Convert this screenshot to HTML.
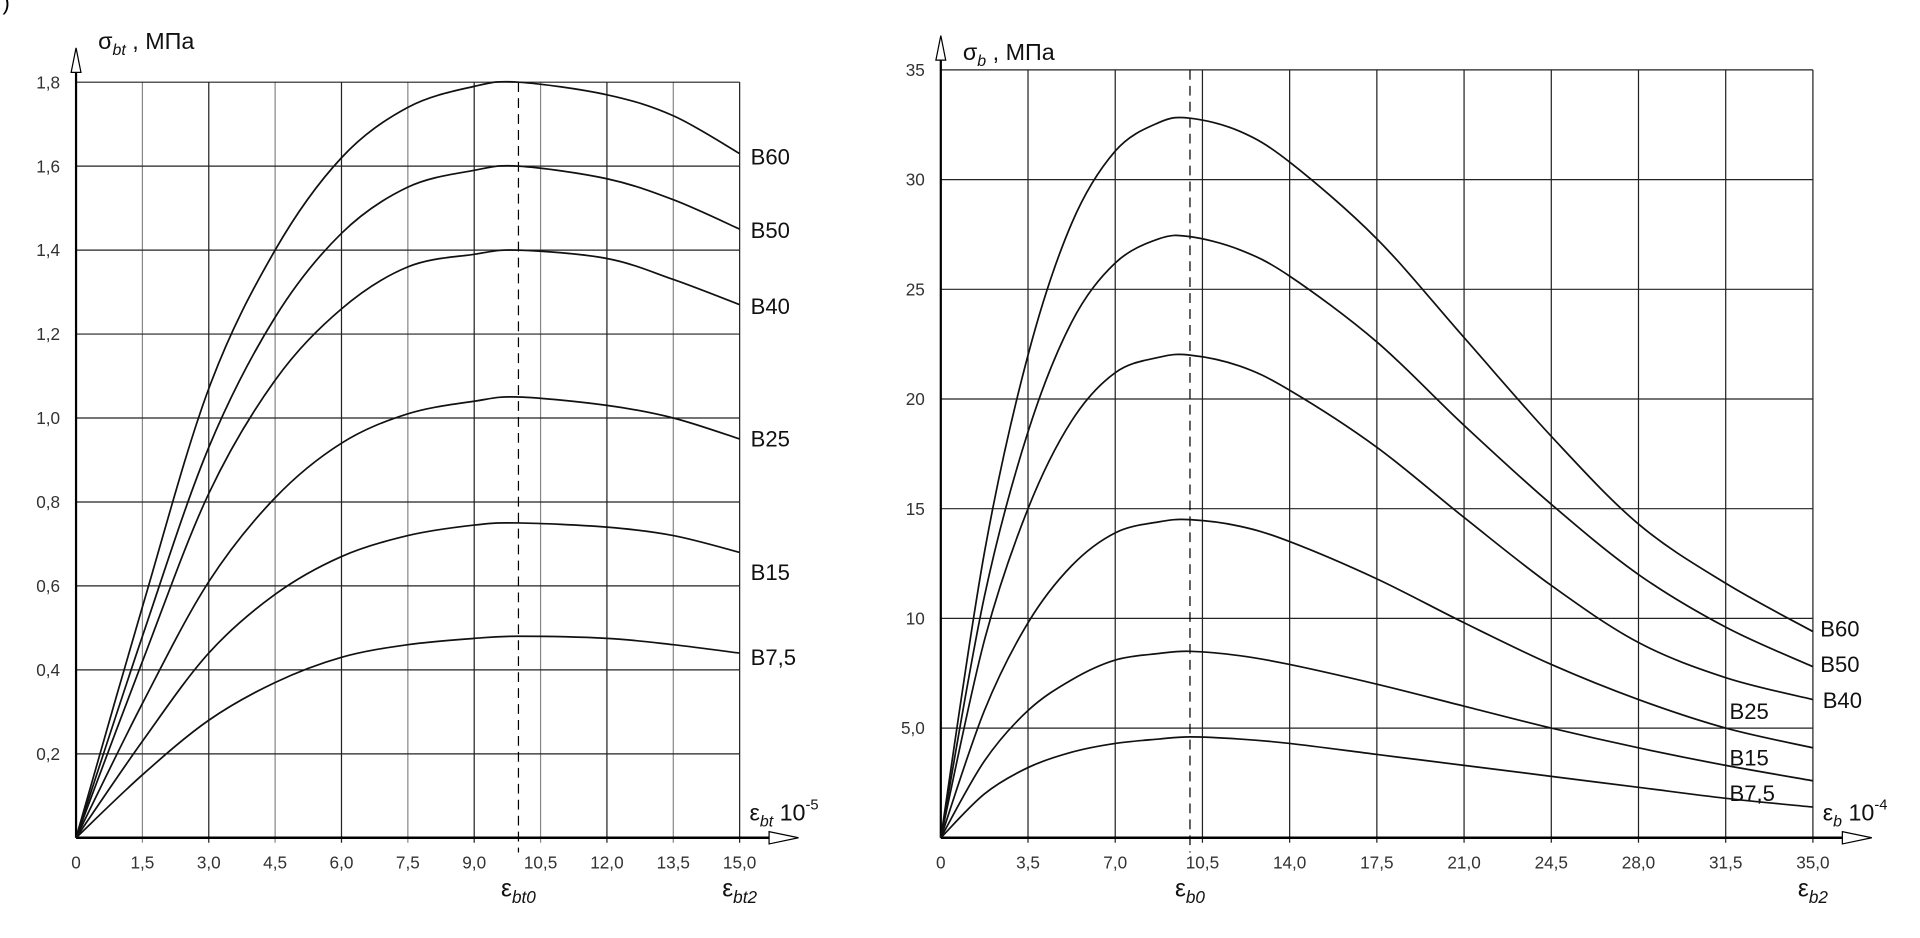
<!DOCTYPE html>
<html><head><meta charset="utf-8"><style>
html,body{margin:0;padding:0;background:#fff;}
svg{display:block;font-family:"Liberation Sans",sans-serif;}
</style></head><body>
<svg id="chart" width="1920" height="938" viewBox="0 0 1565.3 764.7" preserveAspectRatio="none" xmlns="http://www.w3.org/2000/svg">
<text x="2" y="8" font-size="18">)</text>
<g id="L"></g>
<g id="R"></g>
</svg>
<script>
const leftX=[0,1.5,3,4.5,6,7.5,9,10,12,13.5,15];
const leftNames=["B60","B50","B40","B25","B15","B7,5"];
const leftB60=[0,0.55,1.07,1.40,1.62,1.74,1.79,1.80,1.77,1.72,1.63];
const leftB50=[0,0.48,0.93,1.24,1.44,1.55,1.59,1.60,1.57,1.52,1.45];
const leftB40=[0,0.42,0.82,1.09,1.26,1.36,1.39,1.40,1.38,1.33,1.27];
const leftB25=[0,0.32,0.61,0.81,0.94,1.01,1.04,1.05,1.03,1.00,0.95];
const leftB15=[0,0.23,0.44,0.58,0.67,0.72,0.745,0.75,0.74,0.72,0.68];
const leftB75=[0,0.15,0.28,0.37,0.43,0.46,0.475,0.48,0.475,0.46,0.44];
const leftXTicks=["0","1,5","3,0","4,5","6,0","7,5","9,0","10,5","12,0","13,5","15,0"];
const leftYTicks=["0,2","0,4","0,6","0,8","1,0","1,2","1,4","1,6","1,8"];
const rightX=[0,1.75,3.5,5.25,7,8.75,10,12,14,17.5,21,24.5,28,31.5,35];
const rightNames=["B60","B50","B40","B25","B15","B7,5"];
const rightB60=[0,13,22,28,31.3,32.6,32.8,32.2,30.8,27.3,22.8,18.3,14.3,11.6,9.4];
const rightB50=[0,11,18.5,23.5,26.2,27.3,27.4,26.8,25.6,22.6,18.8,15.2,12,9.6,7.8];
const rightB40=[0,9,15,19,21.2,21.9,22,21.5,20.4,17.8,14.6,11.5,8.9,7.3,6.3];
const rightB25=[0,5.8,9.8,12.4,13.9,14.4,14.5,14.2,13.5,11.8,9.8,7.9,6.3,5.0,4.1];
const rightB15=[0,3.5,5.8,7.2,8.1,8.4,8.5,8.3,7.9,7.0,6.0,5.0,4.1,3.3,2.6];
const rightB75=[0,2.0,3.2,3.9,4.3,4.5,4.6,4.5,4.3,3.8,3.3,2.8,2.3,1.8,1.4];
const rightXTicks=["0","3,5","7,0","10,5","14,0","17,5","21,0","24,5","28,0","31,5","35,0"];
const rightYTicks=["5,0","10","15","20","25","30","35"];

const NS="http://www.w3.org/2000/svg";
function mk(p,tag,at,txt){const e=document.createElementNS(NS,tag);for(const k in at)e.setAttribute(k,at[k]);if(txt!==undefined)e.textContent=txt;p.appendChild(e);return e;}
function path(pts){let d="M"+pts[0][0]+","+pts[0][1];for(let i=0;i<pts.length-1;i++){const p0=pts[Math.max(0,i-1)],p1=pts[i],p2=pts[i+1],p3=pts[Math.min(pts.length-1,i+2)];d+=" C"+(p1[0]+(p2[0]-p0[0])/6)+","+(p1[1]+(p2[1]-p0[1])/6)+" "+(p2[0]-(p3[0]-p1[0])/6)+","+(p2[1]-(p3[1]-p1[1])/6)+" "+p2[0]+","+p2[1];}return d;}

function chart(g,o){
 const sx=v=>o.x0+(v-o.xmin)/(o.xmax-o.xmin)*(o.x1-o.x0);
 const sy=v=>o.y0-(v)/(o.ymax)*(o.y0-o.y1);
 o.xTicks.forEach((t,i)=>{const v=i*o.xstep,x=sx(v);
  if(i>0){const l=mk(g,"line",{x1:x,y1:o.y1,x2:x,y2:o.y0+4,stroke:(o.alt&&i%2==1)?"#888":"#222","stroke-width":1});
  
  }
  const t2=mk(g,"text",{x:x,y:o.y0+25,"font-size":14,"text-anchor":"middle",fill:"#333"},t);
  
  });
 o.yTicks.forEach((t,i)=>{const v=(i+1)*o.ystep,y=sy(v);
  const l=mk(g,"line",{x1:o.x0,y1:y,x2:o.x1,y2:y,stroke:"#222","stroke-width":1});
  
  
  const t2=mk(g,"text",{x:o.x0-13,y:y+5,"font-size":14,"text-anchor":"end",fill:"#333"},t);
  
  });
 const ya=mk(g,"line",{x1:o.x0,y1:o.y0,x2:o.x0,y2:o.y1-22,stroke:"#000","stroke-width":1.8});
 
 
 mk(g,"polygon",{points:`${o.x0},${o.y1-28} ${o.x0-4},${o.y1-8} ${o.x0+4},${o.y1-8}`,fill:"#fff",stroke:"#000","stroke-width":1});
 const xa=mk(g,"line",{x1:o.x0,y1:o.y0,x2:o.x1+42,y2:o.y0,stroke:"#000","stroke-width":2});
 
 
 mk(g,"polygon",{points:`${o.x1+48},${o.y0} ${o.x1+24},${o.y0-5} ${o.x1+24},${o.y0+5}`,fill:"#fff",stroke:"#000","stroke-width":1});
 const dx=sx(10);
 const dl=mk(g,"line",{x1:dx,y1:o.y1,x2:dx,y2:o.y0+12,stroke:"#000","stroke-width":1,"stroke-dasharray":"8,5"});
 
 
 o.series.forEach((s,i)=>{
  const pts=o.xs.map((x,j)=>[sx(x),sy(s[j])]);
  const p=mk(g,"path",{d:path(pts),fill:"none",stroke:"#111","stroke-width":1.4});
  
  
  const lp=o.labelPos[i];
  const t=mk(g,"text",{x:lp[0],y:lp[1],"font-size":18,fill:"#111"},o.names[i]);
  
  
 });
 const yt=mk(g,"text",{x:o.x0+18,y:o.y1-o.titleDy,"font-size":19,fill:"#111"});
 
 
 yt.innerHTML=`σ<tspan font-size="13" font-style="italic" dy="5">${o.sub}</tspan><tspan dy="-5"> , МПа</tspan>`;
 const xt=mk(g,"text",{x:o.x1+8,y:o.y0-14,"font-size":19,fill:"#111"});
 
 
 xt.innerHTML=`ε<tspan font-size="13" font-style="italic" dy="5">${o.sub}</tspan><tspan dy="-5"> 10</tspan><tspan font-size="12" dy="-9">${o.exp}</tspan>`;
 [[dx,o.sub+"0"],[sx(o.xmax),o.sub+"2"]].forEach(([x,s])=>{
  const e=mk(g,"text",{x:x,y:o.y0+48,"font-size":20,"text-anchor":"middle",fill:"#111"});
  
  
  e.innerHTML=`ε<tspan font-size="14" font-style="italic" dy="5">${s}</tspan>`;});
}
chart(document.getElementById("L"),{x0:62,x1:603,y0:683,y1:67,xmin:0,xmax:15,ymax:1.8,xstep:1.5,ystep:0.2,alt:true,
 xTicks:leftXTicks,yTicks:leftYTicks,xs:leftX,series:[leftB60,leftB50,leftB40,leftB25,leftB15,leftB75],names:leftNames,
 labelPos:[[612,134],[612,194],[612,256],[612,364],[612,473],[612,542]],sub:"bt",exp:"-5",titleDy:27});
chart(document.getElementById("R"),{x0:767,x1:1478,y0:683,y1:57,xmin:0,xmax:35,ymax:35,xstep:3.5,ystep:5,alt:false,
 xTicks:rightXTicks,yTicks:rightYTicks,xs:rightX,series:[rightB60,rightB50,rightB40,rightB25,rightB15,rightB75],names:rightNames,
 labelPos:[[1484,519],[1484,548],[1486,577],[1410,586],[1410,624],[1410,653]],sub:"b",exp:"-4",titleDy:8});
</script>
</body></html>
